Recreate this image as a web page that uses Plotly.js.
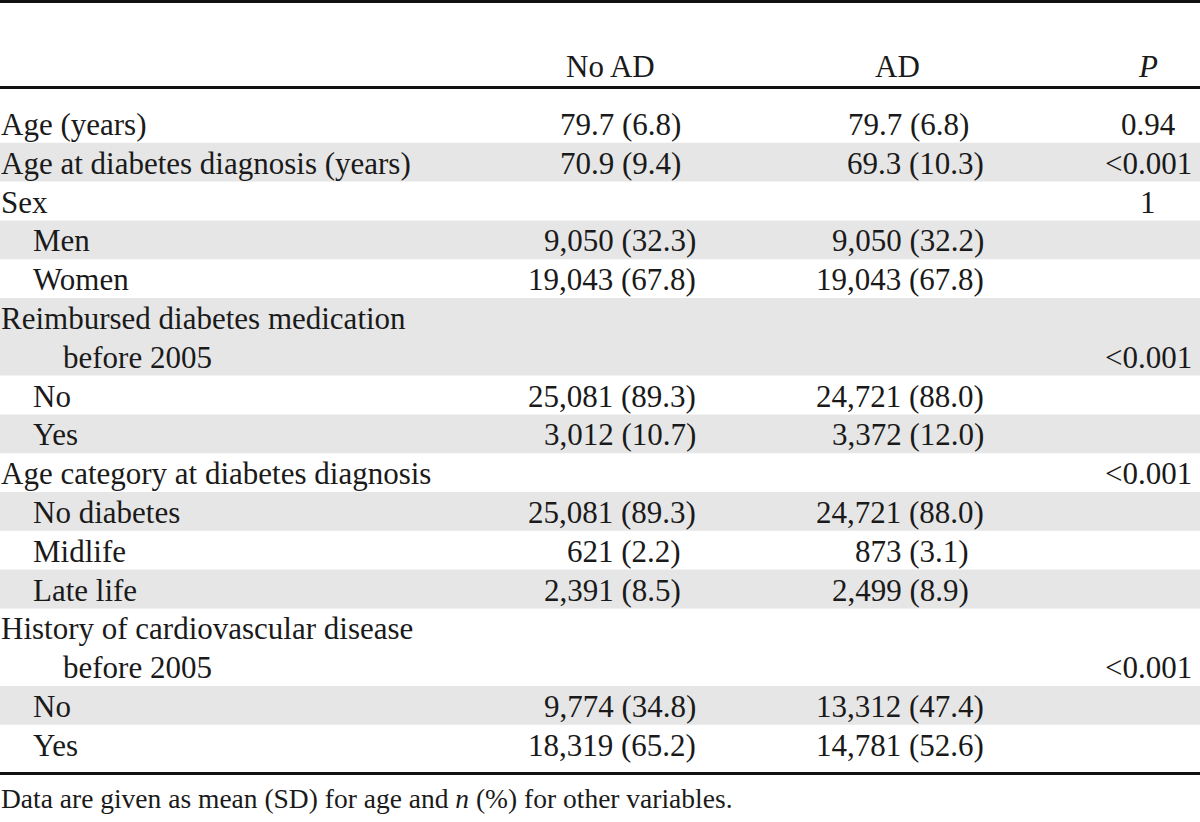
<!DOCTYPE html>
<html>
<head>
<meta charset="utf-8">
<script src="https://cdn.plot.ly/plotly-3.0.1.min.js"></script>
<style>html,body{margin:0;padding:0;background:#fff;}#chart{width:1200px;height:822px;}</style>
</head>
<body>
<div id="chart"></div>
<script>
// ---- Table content ----
var headers = ["No AD", "AD", "P"];
var labels = [
  "Age (years)",
  "Age at diabetes diagnosis (years)",
  "Sex",
  "Men",
  "Women",
  "Reimbursed diabetes medication",
  "before 2005",
  "No",
  "Yes",
  "Age category at diabetes diagnosis",
  "No diabetes",
  "Midlife",
  "Late life",
  "History of cardiovascular disease",
  "before 2005",
  "No",
  "Yes"
];
var indentLevel = [0, 0, 0, 1, 1, 0, 2, 1, 1, 0, 1, 1, 1, 0, 2, 1, 1];
var rowGroup    = [0, 1, 2, 3, 4, 5, 5, 6, 7, 8, 9, 10, 11, 12, 12, 13, 14];
var noAD = [
  "79.7 (6.8)", "70.9 (9.4)", "", "9,050 (32.3)", "19,043 (67.8)", "", "",
  "25,081 (89.3)", "3,012 (10.7)", "", "25,081 (89.3)", "621 (2.2)", "2,391 (8.5)",
  "", "", "9,774 (34.8)", "18,319 (65.2)"
];
var withAD = [
  "79.7 (6.8)", "69.3 (10.3)", "", "9,050 (32.2)", "19,043 (67.8)", "", "",
  "24,721 (88.0)", "3,372 (12.0)", "", "24,721 (88.0)", "873 (3.1)", "2,499 (8.9)",
  "", "", "13,312 (47.4)", "14,781 (52.6)"
];
var pValues = [
  "0.94", "<0.001", "1", "", "", "", "<0.001", "", "", "<0.001", "", "", "",
  "", "<0.001", "", ""
];
var footnote = "Data are given as mean (SD) for age and <i>n</i> (%) for other variables.";

// ---- Layout geometry ----
var W = 1200, H = 822;
var FONT = "Liberation Serif, Times New Roman, serif";
var FS = 31;
var TXT = "#1a1a1a";
var GRAY = "#e6e6e6";
var rowTop0 = 104, rowH = 38.8;
var indentPx = [0, 32, 62];
var colRight = [697, 985];
var pCenter = 1148;
var headerCenters = [610, 897, 1148];
var digitW = 0.5 * FS;

function rowTop(i) { return rowTop0 + i * rowH; }
function rowMid(i) { return rowTop(i) + rowH / 2; }

var shapes = [];
// shaded bands (odd groups)
var i = 0;
while (i < labels.length) {
  var g = rowGroup[i], j = i;
  while (j + 1 < labels.length && rowGroup[j + 1] === g) j++;
  if (g % 2 === 1) {
    shapes.push({type: "rect", xref: "x", yref: "y", x0: 0, x1: W,
      y0: rowTop(i), y1: rowTop(j + 1), fillcolor: GRAY, line: {width: 0}, layer: "below"});
  }
  i = j + 1;
}
// rules
function rule(y0, y1) {
  shapes.push({type: "rect", xref: "x", yref: "y", x0: 0, x1: W, y0: y0, y1: y1,
    fillcolor: "#111", line: {width: 0}});
}
rule(0, 3);
rule(86, 89);
rule(772, 775);

var ann = [];
function addText(txt, x, y, anchor, extra) {
  var a = {text: txt, x: x, y: y, xref: "x", yref: "y", xanchor: anchor, yanchor: "middle",
    showarrow: false, borderpad: 0, font: {family: FONT, size: FS, color: TXT}};
  if (extra) for (var k in extra) a[k] = extra[k];
  ann.push(a);
}
function esc(s) { return s.replace(/</g, "&lt;"); }

// headers
addText(headers[0], headerCenters[0], 66, "center");
addText(headers[1], headerCenters[1], 66, "center");
addText("<i>" + headers[2] + "</i>", headerCenters[2], 66, "center");

function rightX(base, s) {
  // one-digit percentages are set one figure narrower
  var m = s.match(/\((\d+)\./);
  if (m && m[1].length === 1) return base - digitW;
  return base;
}

for (var r = 0; r < labels.length; r++) {
  var ym = rowMid(r) + 1;
  addText(labels[r], indentPx[indentLevel[r]], ym, "left");
  if (noAD[r]) addText(noAD[r], rightX(colRight[0], noAD[r]), ym, "right");
  if (withAD[r]) addText(withAD[r], rightX(colRight[1], withAD[r]), ym, "right");
  if (pValues[r]) addText(esc(pValues[r]), pCenter, ym, "center");
}
addText(footnote, 0, 798, "left", {font: {family: FONT, size: 27.5, color: TXT}});

var layout = {
  width: W, height: H,
  margin: {l: 0, r: 0, t: 0, b: 0, pad: 0},
  paper_bgcolor: "#fff", plot_bgcolor: "#fff",
  showlegend: false,
  xaxis: {range: [0, W], visible: false, fixedrange: true},
  yaxis: {range: [H, 0], visible: false, fixedrange: true},
  shapes: shapes,
  annotations: ann
};
Plotly.newPlot("chart", [{x: [], y: [], type: "scatter", mode: "markers", hoverinfo: "skip"}], layout,
  {staticPlot: true, displayModeBar: false});
</script>
</body>
</html>
